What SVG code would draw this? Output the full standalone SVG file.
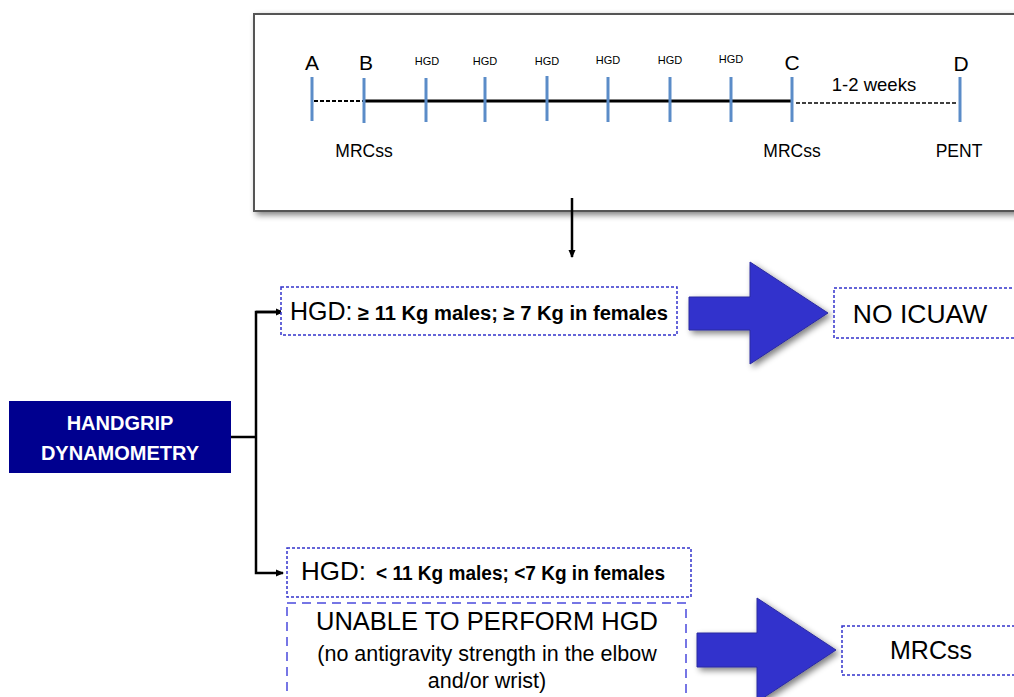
<svg xmlns="http://www.w3.org/2000/svg" width="1014" height="697" viewBox="0 0 1014 697">
<defs>
<style>
text{font-family:"Liberation Sans",Arial,sans-serif;fill:#000}
.tick{stroke:#5B8CC8;stroke-width:3}
.dot{fill:#fff;stroke:#3333CC;stroke-width:1.5;stroke-dasharray:3 2}
.dash{fill:#fff;stroke:#4A4ADD;stroke-width:1.5;stroke-dasharray:9 6}
.conn{fill:none;stroke:#000;stroke-width:2.5}
.big{fill:#3333CC;stroke:#2a2aa0;stroke-width:1}
.wt{fill:#fff}
</style>
<marker id="ah" markerWidth="8" markerHeight="8" refX="7" refY="4" orient="auto" markerUnits="userSpaceOnUse">
<path d="M0,0.5 L8,4 L0,7.5 Z" fill="#000"/>
</marker>
<filter id="sh" x="-20%" y="-20%" width="150%" height="150%">
<feGaussianBlur in="SourceAlpha" stdDeviation="3"/>
<feOffset dx="3" dy="3"/>
<feComponentTransfer><feFuncA type="linear" slope="0.5"/></feComponentTransfer>
<feMerge><feMergeNode/><feMergeNode in="SourceGraphic"/></feMerge>
</filter>
</defs>
<rect width="1014" height="697" fill="#fff"/>

<g id="timeline">
<rect x="254" y="14" width="770" height="197" fill="#fff" stroke="#555" stroke-width="2" filter="url(#sh)"/>
<line x1="314" y1="101" x2="364" y2="101" stroke="#000" stroke-width="2" stroke-dasharray="4 2"/>
<line x1="364" y1="101" x2="792" y2="101" stroke="#000" stroke-width="3"/>
<line x1="796" y1="103" x2="958" y2="103" stroke="#000" stroke-width="1.5" stroke-dasharray="4 2"/>
<line class="tick" x1="312" y1="77" x2="312" y2="121"/>
<line class="tick" x1="364" y1="78" x2="364" y2="123"/>
<line class="tick" x1="426" y1="78" x2="426" y2="122"/>
<line class="tick" x1="485" y1="77" x2="485" y2="122"/>
<line class="tick" x1="547" y1="76" x2="547" y2="121"/>
<line class="tick" x1="608" y1="77" x2="608" y2="122"/>
<line class="tick" x1="670" y1="77" x2="670" y2="122"/>
<line class="tick" x1="731" y1="77" x2="731" y2="122"/>
<line class="tick" x1="792" y1="77" x2="792" y2="122"/>
<line class="tick" x1="960" y1="77" x2="960" y2="122"/>
<g font-size="21" text-anchor="middle">
<text x="312" y="70">A</text>
<text x="366" y="70">B</text>
<text x="792" y="70">C</text>
<text x="961" y="71">D</text>
</g>
<g font-size="11" text-anchor="middle">
<text x="427" y="65">HGD</text>
<text x="485" y="65">HGD</text>
<text x="547" y="65">HGD</text>
<text x="608" y="64">HGD</text>
<text x="670" y="64">HGD</text>
<text x="731" y="63">HGD</text>
</g>
<g font-size="17.5" text-anchor="middle">
<text x="874" y="91" font-size="18.5">1-2 weeks</text>
<text x="364" y="157">MRCss</text>
<text x="792" y="157">MRCss</text>
<text x="959" y="157">PENT</text>
</g>
</g>

<g id="connectors">
<line class="conn" x1="572" y1="198" x2="572" y2="257" marker-end="url(#ah)"/>
<polyline class="conn" points="231,437 256,437"/>
<polyline class="conn" points="283,312 256,312 256,573 283,573" marker-end="url(#ah)"/>
<line class="conn" x1="256" y1="312" x2="283" y2="312" marker-end="url(#ah)"/>
</g>

<g id="handgrip">
<rect x="9" y="401" width="222" height="72" fill="#00008F"/>
<text class="wt" x="120" y="430" font-size="20" font-weight="bold" text-anchor="middle">HANDGRIP</text>
<text class="wt" x="120" y="460" font-size="20" font-weight="bold" text-anchor="middle">DYNAMOMETRY</text>
</g>

<g id="hgd-high">
<rect class="dot" x="281" y="287" width="396" height="48"/>
<text x="290" y="320" font-size="25">HGD:</text>
<text x="358" y="320" font-size="20" font-weight="bold" textLength="310" lengthAdjust="spacingAndGlyphs">≥ 11 Kg males; ≥ 7 Kg in females</text>
</g>

<g id="arrow-top">
<path class="big" filter="url(#sh)" d="M689,297 L750,297 L750,262 L828,313 L750,364 L750,330 L689,330 Z"/>
</g>

<g id="no-icuaw">
<rect class="dot" x="834" y="288" width="190" height="50"/>
<text x="920" y="323" font-size="26.5" text-anchor="middle">NO ICUAW</text>
</g>

<g id="hgd-low">
<rect class="dot" x="287" y="548" width="404" height="49"/>
<text x="301" y="580" font-size="26">HGD:</text>
<text x="376" y="580" font-size="19.5" font-weight="bold" textLength="289" lengthAdjust="spacingAndGlyphs">&lt; 11 Kg males; &lt;7 Kg in females</text>
</g>

<g id="unable">
<rect class="dash" x="287" y="603" width="399" height="110"/>
<text x="487" y="630" font-size="25.5" text-anchor="middle">UNABLE TO PERFORM HGD</text>
<text x="487" y="661" font-size="21.5" text-anchor="middle">(no antigravity strength in the elbow</text>
<text x="487" y="688" font-size="21.5" text-anchor="middle">and/or wrist)</text>
</g>

<g id="arrow-bottom">
<path class="big" filter="url(#sh)" d="M697,633 L757,633 L757,598 L836,650 L757,702 L757,667 L697,667 Z"/>
</g>

<g id="mrcss">
<rect class="dot" x="842" y="626" width="182" height="49"/>
<text x="931" y="659" font-size="25" text-anchor="middle">MRCss</text>
</g>
</svg>
